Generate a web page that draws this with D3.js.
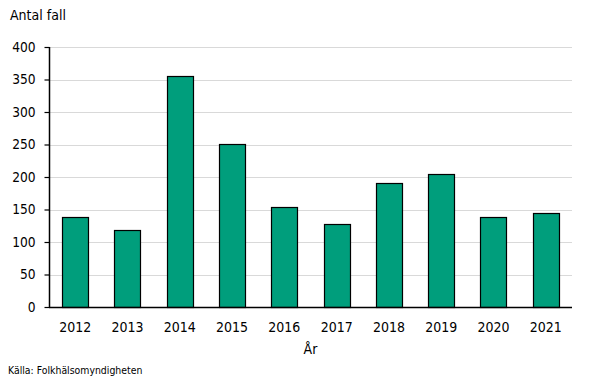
<!DOCTYPE html>
<html><head><meta charset="utf-8">
<script src="https://cdn.jsdelivr.net/npm/d3@7"></script>
<style>body{margin:0;background:#fff}svg{display:block}text{font-family:"DejaVu Sans Condensed","DejaVu Sans",sans-serif;fill:#000}</style>
</head><body>
<script>
const years = ["2012","2013","2014","2015","2016","2017","2018","2019","2020","2021"];
const cases = [138, 118, 355, 251, 154, 128, 191, 205, 138, 145];
const yTicks = [0,50,100,150,200,250,300,350,400];
const yTitle = "Antal fall";
const xTitle = "År";
const source = "Källa: Folkhälsomyndigheten";

const W=605,H=379;
const m={left:49,right:33,top:47,bottom:72};
const FONT='"DejaVu Sans Condensed","DejaVu Sans",sans-serif';
const svg=d3.select("body").append("svg").attr("width",W).attr("height",H);
const x=d3.scaleBand().domain(years).range([m.left,W-m.right]).paddingInner(0.5).paddingOuter(0.25);
const y=d3.scaleLinear().domain([0,400]).range([H-m.bottom,m.top]);

svg.append("g").selectAll("line").data(yTicks.filter(d=>d>0)).join("line")
  .attr("x1",m.left).attr("x2",W-m.right)
  .attr("y1",d=>Math.round(y(d))+0.5).attr("y2",d=>Math.round(y(d))+0.5)
  .attr("stroke","#d9d9d9").attr("stroke-width",1);

svg.append("g").selectAll("rect").data(cases).join("rect")
  .attr("x",(d,i)=>Math.round(x(years[i]))+0.5)
  .attr("y",d=>Math.round(y(d))+0.5)
  .attr("width",Math.round(x.bandwidth()))
  .attr("height",d=>Math.round(y(0))-Math.round(y(d)))
  .attr("fill","#009e7c").attr("stroke","#000").attr("stroke-width",1.2);

const ya=svg.append("g").attr("transform",`translate(${m.left+0.5},0)`)
  .call(d3.axisLeft(y).tickValues(yTicks).tickSize(5).tickPadding(9));
ya.select(".domain").attr("stroke","#000").attr("stroke-width",1.5).attr("d",`M0,${Math.round(y(400))}V${y(0)}`);
ya.selectAll(".tick line").attr("stroke","#000").attr("stroke-width",1.2);
ya.selectAll("text").style("font-size","13.6px").style("font-family",FONT);

const xa=svg.append("g").attr("transform",`translate(0,${Math.round(y(0))+0.5})`)
  .call(d3.axisBottom(x).tickSize(0).tickPadding(15));
xa.select(".domain").attr("stroke","#000").attr("stroke-width",1.5).attr("d",`M${m.left},0H${W-m.right}`);
xa.selectAll("text").style("font-size","14px").style("font-family",FONT);

svg.append("text").attr("x",10).attr("y",20).style("font-size","14px").text(yTitle);
svg.append("text").attr("x",(m.left+W-m.right)/2).attr("y",354).attr("text-anchor","middle").style("font-size","14px").text(xTitle);
svg.append("text").attr("x",8).attr("y",374).style("font-size","10.4px").text(source);
</script>
</body></html>
